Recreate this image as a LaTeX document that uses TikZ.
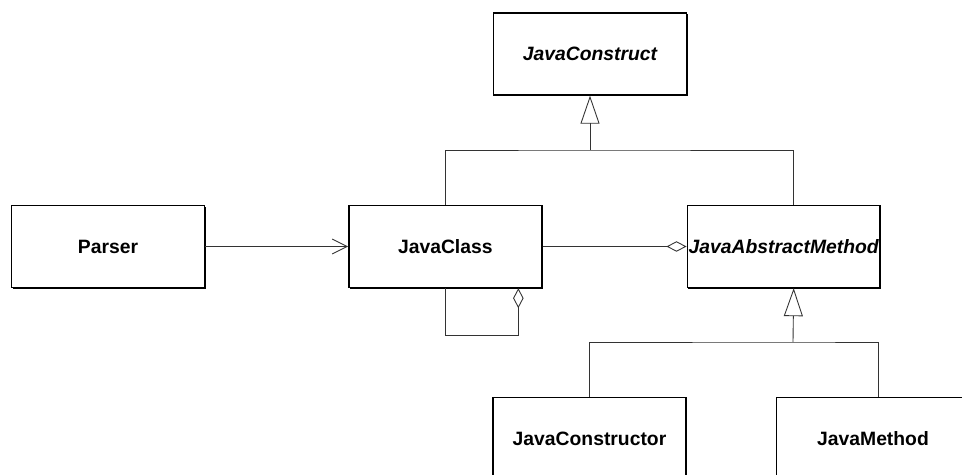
\documentclass[tikz,border=0pt]{standalone}
\usepackage{fontspec}
\setmainfont{Liberation Sans}
\usetikzlibrary{arrows.meta,positioning,shadows}

\begin{document}
\begin{tikzpicture}[
  x=0.02cm, y=-0.02cm,
  cls/.style={draw, line width=0.8pt, fill=white, minimum width=3.86cm, minimum height=1.64cm, inner xsep=0pt,
    font=\fontsize{11}{13}\selectfont\bfseries,
    drop shadow={shadow xshift=0.6pt, shadow yshift=-0.8pt, opacity=1, fill=black}},
  abscls/.style={cls, font=\fontsize{11}{13}\selectfont\bfseries\itshape},
  link/.style={line width=0.5pt, black!80},
  assoc/.style={link, -{Straight Barb[length=0.3cm, width=0.3cm]}},
  aggr/.style={link, -{Diamond[open, length=0.4cm, width=0.21cm]}},
  gen/.style={link, -{Triangle[open, length=0.56cm, width=0.38cm]}}
]
\useasboundingbox (0,0) rectangle (962,475);

\node[abscls] (construct) at (590,54) {JavaConstruct};
\node[cls] (parser) at (108,246.5) {Parser};
\node[cls, right=2.86cm of parser] (javaclass) {JavaClass};
\node[abscls, right=2.88cm of javaclass] (absmethod) {JavaAbstractMethod};
\node[cls] (constructor) at (589.5,438.5) {JavaConstructor};
\node[cls] (method) at (873,438.5) {JavaMethod};

\coordinate (split1) at (590,150);
\coordinate (split2) at (793,342);

% inheritance
\draw[link] (javaclass.north) |- (split1) -| ([xshift=0.2cm]absmethod.north);
\draw[gen] (split1) -- (construct.south);
\draw[link] (constructor.north) |- (split2) -| ([xshift=0.1cm]method.north);
\draw[gen] (split2) -- ([xshift=0.2cm]absmethod.south);

% associations
\draw[assoc] (parser) -- (javaclass);
\draw[aggr] (javaclass) -- (absmethod);
\draw[aggr] (javaclass.south) -- ++(0,47) -| ([xshift=1.46cm]javaclass.south);
\end{tikzpicture}
\end{document}
